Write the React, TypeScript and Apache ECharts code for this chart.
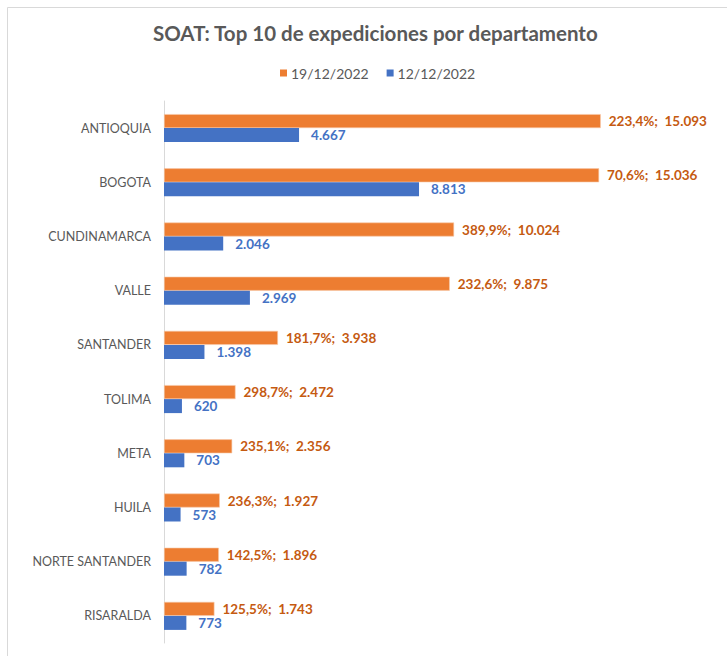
import React, { useEffect, useRef } from "react";
import * as echarts from "echarts";

const categories = ["ANTIOQUIA", "BOGOTA", "CUNDINAMARCA", "VALLE", "SANTANDER", "TOLIMA", "META", "HUILA", "NORTE SANTANDER", "RISARALDA"];
const values1912 = [15093, 15036, 10024, 9875, 3938, 2472, 2356, 1927, 1896, 1743];
const pct1912 = ["223,4%", "70,6%", "389,9%", "232,6%", "181,7%", "298,7%", "235,1%", "236,3%", "142,5%", "125,5%"];
const values1212 = [4667, 8813, 2046, 2969, 1398, 620, 703, 573, 782, 773];
const seriesNames = ["19/12/2022", "12/12/2022"];

const fmt = (v: number) => String(v).replace(/\B(?=(\d{3})+(?!\d))/g, ".");

const FONT = "Lato, 'Open Sans', sans-serif";

export default function App() {
  const ref = useRef<HTMLDivElement>(null);
  useEffect(() => {
    if (!ref.current) return;
    const chart = echarts.init(ref.current, null, { renderer: "svg" });
    chart.setOption({
      animation: false,
      backgroundColor: "#ffffff",
      textStyle: { fontFamily: FONT },
      graphic: [
        {
          type: "rect",
          shape: { x: 7.5, y: 7.5, width: 740, height: 680 },
          style: { fill: "none", stroke: "#d9d9d9", lineWidth: 1 },
          silent: true,
          z: -1,
        },
      ],
      title: {
        text: "SOAT: Top 10 de expediciones por departamento",
        left: 148,
        top: 17,
        textStyle: { fontFamily: FONT, fontSize: 20.5, fontWeight: "bold", color: "#595959" },
      },
      legend: {
        top: 61,
        left: 275,
        itemWidth: 7,
        itemHeight: 7,
        itemGap: 18,
        icon: "rect",
        data: seriesNames,
        itemStyle: { borderWidth: 0 },
        textStyle: { fontFamily: FONT, fontSize: 14, color: "#595959", padding: [0, 0, 0, -1] },
      },
      grid: { left: 164, right: 100, top: 101, bottom: 13, containLabel: false },
      xAxis: {
        type: "value",
        min: 0,
        max: 16000,
        show: false,
      },
      yAxis: {
        type: "category",
        inverse: true,
        data: categories,
        axisLine: { show: true, lineStyle: { color: "#d9d9d9", width: 1 } },
        axisTick: { show: false },
        axisLabel: { fontFamily: FONT, fontSize: 12.5, color: "#595959", margin: 13 },
      },
      series: [
        {
          name: seriesNames[0],
          type: "bar",
          data: values1912,
          barWidth: 14,
          barGap: "0%",
          itemStyle: { color: "#ED7D31", borderColor: "#f7c9a9", borderWidth: 0.6 },
          label: {
            show: true,
            position: "right",
            distance: 8,
            fontFamily: FONT,
            fontSize: 13.5,
            fontWeight: "bold",
            color: "#C55A11",
            formatter: (p: any) => pct1912[p.dataIndex] + ";  " + fmt(p.value),
          },
        },
        {
          name: seriesNames[1],
          type: "bar",
          data: values1212,
          barWidth: 14,
          barGap: "0%",
          itemStyle: { color: "#4472C4" },
          label: {
            show: true,
            position: "right",
            distance: 12,
            fontFamily: FONT,
            fontSize: 13.5,
            fontWeight: "bold",
            color: "#4472C4",
            formatter: (p: any) => fmt(p.value),
          },
        },
      ],
    });
    return () => chart.dispose();
  }, []);
  return (
    <div style={{ position: "fixed", left: 0, top: 0, width: 727, height: 656, background: "#fff" }}>
      <div ref={ref} style={{ width: 727, height: 656 }} />
    </div>
  );
}
